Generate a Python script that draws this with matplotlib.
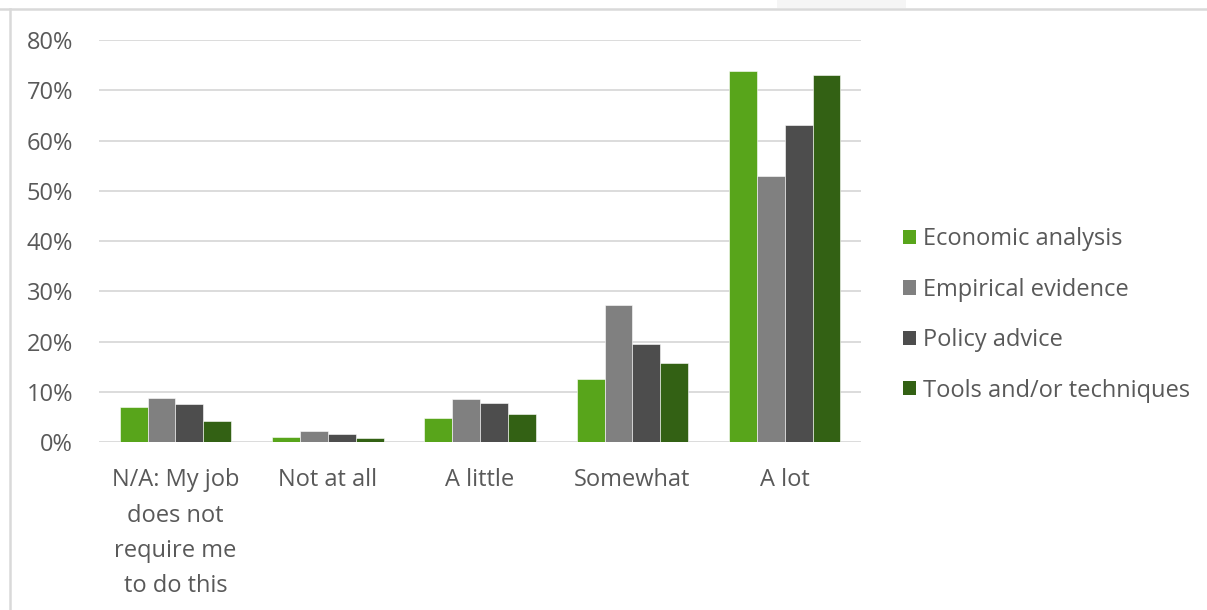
import numpy as np
import matplotlib.pyplot as plt
from matplotlib.patches import Rectangle, Patch
from matplotlib.lines import Line2D

categories = ["N/A: My job\ndoes not\nrequire me\nto do this", "Not at all", "A little", "Somewhat", "A lot"]
series_names = ["Economic analysis", "Empirical evidence", "Policy advice", "Tools and/or techniques"]
economic = [6.9, 1.0, 4.8, 12.5, 73.8]
empirical = [8.8, 2.1, 8.5, 27.3, 52.9]
policy = [7.5, 1.6, 7.7, 19.5, 63.0]
tools = [4.2, 0.8, 5.5, 15.8, 73.0]
yticks = [0, 10, 20, 30, 40, 50, 60, 70, 80]

colors = ["#58a51b", "#808080", "#4d4d4d", "#336114"]
text_col = "#595959"

plt.rcParams['font.family'] = ['Open Sans', 'DejaVu Sans']

fig = plt.figure(figsize=(12.07, 6.10), dpi=100)
ax = fig.add_axes([0.0823, 0.2754, 0.6309, 0.659])

x = np.arange(len(categories))
w = 0.183
for i, vals in enumerate([economic, empirical, policy, tools]):
    ax.bar(x + (i - 1.5) * w, vals, w, color=colors[i], zorder=3,
           edgecolor="#ffffff", linewidth=0.4)

ax.set_xlim(-0.5, len(categories) - 0.5)
ax.set_ylim(0, 80)
ax.set_yticks(yticks)
ax.set_yticklabels([f"{v}%" for v in yticks])
ax.set_xticks(x)
ax.set_xticklabels(categories, linespacing=1.63)
ax.grid(axis="y", color="#d9d9d9", linewidth=1.3, zorder=0)
for s in ax.spines.values():
    s.set_visible(False)
ax.tick_params(axis="y", length=0, pad=19, labelsize=17, labelcolor=text_col)
ax.tick_params(axis="x", length=0, pad=19, labelsize=17, labelcolor=text_col)
for lab in ax.get_xticklabels():
    lab.set_verticalalignment("top")

handles = [Patch(facecolor=c, edgecolor="none") for c in colors]
leg = fig.legend(handles, series_names, loc="center left",
                 bbox_to_anchor=(0.7307, 0.4836), frameon=False,
                 fontsize=17, labelcolor=text_col, handlelength=0.55,
                 handleheight=0.55, handletextpad=0.3, labelspacing=1.12)

# outer frame of the screenshot
fig.add_artist(Line2D([0, 1], [1 - 9 / 610, 1 - 9 / 610], color="#d9d9d9",
                      linewidth=1.8, transform=fig.transFigure))
fig.add_artist(Line2D([10 / 1207, 10 / 1207], [0, 1 - 9 / 610], color="#d9d9d9",
                      linewidth=1.8, transform=fig.transFigure))
fig.add_artist(Rectangle((777 / 1207, 1 - 8 / 610), 129 / 1207, 8 / 610,
                         facecolor="#f5f5f5", edgecolor="none",
                         transform=fig.transFigure))

fig.savefig("out.png", dpi=100)
